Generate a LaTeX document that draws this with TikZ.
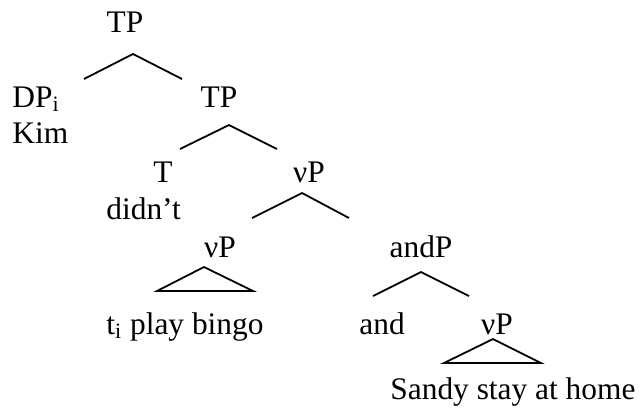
\documentclass[tikz,border=0pt]{standalone}
\usepackage{fontspec}
\setmainfont{Liberation Serif}
\begin{document}
\begin{tikzpicture}[x=0.5pt,y=-0.5pt,
  lbl/.style={inner sep=0pt,anchor=base,font=\fontsize{15.7}{18}\selectfont},
  lblw/.style={lbl,anchor=base west},
  branch/.style={line width=0.9pt,line cap=butt,line join=miter},
  roof/.style={branch}]
\useasboundingbox (0,0) rectangle (640,414);

% labels
\node[lbl]  (tp1)   at (125,32)  {TP};
\node[lblw] (dp)    at (12,107)  {DP\textsubscript{i}};
\node[lblw] (kim)   at (12,143)  {Kim};
\node[lbl]  (tp2)   at (219,107) {TP};
\node[lbl]  (t)     at (163,182) {T};
\node[lblw] (didnt) at (106,219) {didn’t};
\node[lbl]  (vp1)   at (309,182) {νP};
\node[lbl]  (vp2)   at (220,257) {νP};
\node[lblw] (bingo) at (106,334) {t\textsubscript{i} play bingo};
\node[lbl]  (andp)  at (421,257) {andP};
\node[lblw] (and)   at (359,334) {and};
\node[lbl]  (vp3)   at (497,334) {νP};
\node[lblw] (sandy) at (390,399) {Sandy stay at home};

% branch points
\coordinate (tp1-a) at (133,54);  \coordinate (tp1-l) at (84,79);   \coordinate (tp1-r) at (182,79);
\coordinate (tp2-a) at (229,125); \coordinate (tp2-l) at (180,149); \coordinate (tp2-r) at (277,149);
\coordinate (vp1-a) at (302,193); \coordinate (vp1-l) at (252,218); \coordinate (vp1-r) at (349,218);
\coordinate (vp2-a) at (204,267); \coordinate (vp2-l) at (157,291); \coordinate (vp2-r) at (253,291);
\coordinate (and-a) at (421,272); \coordinate (and-l) at (373,296); \coordinate (and-r) at (469,296);
\coordinate (vp3-a) at (493,339); \coordinate (vp3-l) at (444,363); \coordinate (vp3-r) at (541,363);

% branches
\draw[branch] (tp1-l) -- (tp1-a) -- (tp1-r);
\draw[branch] (tp2-l) -- (tp2-a) -- (tp2-r);
\draw[branch] (vp1-l) -- (vp1-a) -- (vp1-r);
\draw[branch] (and-l) -- (and-a) -- (and-r);

% roofs over unanalysed constituents
\draw[roof] (vp2-l) -- (vp2-a) -- (vp2-r) -- cycle;
\draw[roof] (vp3-l) -- (vp3-a) -- (vp3-r) -- cycle;
\end{tikzpicture}
\end{document}
